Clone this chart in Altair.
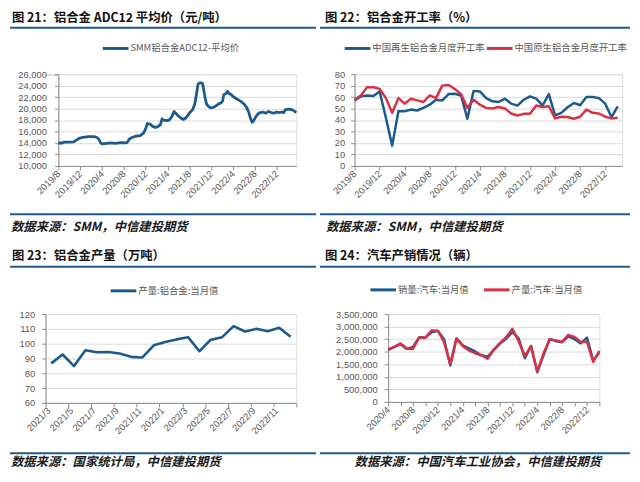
import json
import altair as alt
import pandas as pd

FONT = "Noto Sans CJK SC"
NUMFONT = "Liberation Sans"
BLUE = "#1B5A8C"
RED = "#DA3045"
RULE_BLUE = "#1F5A8E"
GRID = "#D9D9D9"
AXIS = "#8C8C8C"
LABEL = "#595959"

# ---------------- Panel 1: ADC12 price (daily) ----------------
P1_DATES = [
    "2019-08-01", "2019-08-25", "2019-09-01", "2019-10-01", "2019-10-25", "2019-11-10",
    "2019-11-25", "2019-12-16", "2020-01-16", "2020-02-16", "2020-03-01", "2020-03-13",
    "2020-03-22", "2020-04-01", "2020-04-16", "2020-05-16", "2020-06-16", "2020-07-16",
    "2020-08-10", "2020-08-19", "2020-09-01", "2020-09-19", "2020-10-10", "2020-11-01",
    "2020-11-19", "2020-12-01", "2020-12-10", "2020-12-25", "2021-01-10", "2021-01-25",
    "2021-02-10", "2021-02-22", "2021-03-01", "2021-03-10", "2021-03-25", "2021-04-10",
    "2021-04-25", "2021-05-07", "2021-05-19", "2021-06-01", "2021-06-16", "2021-06-28",
    "2021-07-13", "2021-08-01", "2021-08-19", "2021-09-01", "2021-09-10", "2021-09-19",
    "2021-10-01", "2021-10-13", "2021-10-19", "2021-10-28", "2021-11-07", "2021-11-19",
    "2021-12-01", "2021-12-19", "2022-01-07", "2022-01-25", "2022-02-04", "2022-02-10",
    "2022-02-22", "2022-03-01", "2022-03-10", "2022-03-19", "2022-04-01", "2022-04-16",
    "2022-05-01", "2022-05-16", "2022-06-01", "2022-06-16", "2022-06-28", "2022-07-07",
    "2022-07-16", "2022-07-25", "2022-08-07", "2022-08-19", "2022-09-01", "2022-09-16",
    "2022-10-01", "2022-10-16", "2022-11-01", "2022-11-16", "2022-12-01", "2022-12-16",
    "2023-01-01", "2023-01-10", "2023-01-19", "2023-02-07", "2023-02-25", "2023-03-07",
    "2023-03-19",
]
P1_PRICE = [
    14000, 14000, 14150, 14150, 14200, 14500,
    14800, 15000, 15100, 15100, 15000, 14700,
    14100, 13850, 13900, 14000, 13950, 14050,
    14000, 14100, 14700, 15000, 15200, 15300,
    15700, 16500, 17400, 17300, 16900, 16700,
    16900, 17200, 18200, 18000, 17900, 18000,
    18600, 19500, 19100, 18700, 18300, 18100,
    18400, 19200, 19800, 20800, 22500, 24300,
    24500, 24400, 23500, 21800, 20700, 20300,
    20100, 20300, 20700, 21000, 21300, 22400,
    22600, 23000, 22600, 22500, 22100, 21800,
    21500, 21200, 20800, 20200, 19300, 18300,
    17600, 17900, 18600, 19100, 19300, 19400,
    19200, 19500, 19300, 19200, 19400, 19300,
    19400, 19300, 19800, 19900, 19800, 19600,
    19300,
]
P1_XLABELS = ["2019/8", "2019/12", "2020/4", "2020/8", "2020/12", "2021/4",
              "2021/8", "2021/12", "2022/4", "2022/8", "2022/12"]
P1_SERIES = "SMM铝合金ADC12-平均价"

# ---------------- Panel 2: operating rates (monthly 2019/8 - 2023/2) ----------------
P2_RECYCLED = [57.1, 60.6, 61.4, 60.9, 64.9, 42.0, 17.7, 47.7, 47.7, 49.1,
               48.3, 50.6, 53.4, 57.7, 57.1, 62.6, 62.9, 61.4, 41.1, 65.4,
               64.9, 59.1, 56.3, 55.7, 58.6, 54.3, 52.6, 57.7, 60.6, 58.6,
               52.6, 62.6, 44.0, 46.3, 51.1, 54.9, 52.9, 60.0, 60.0, 59.1,
               54.3, 42.6, 52.0]
P2_PRIMARY = [57.7, 61.4, 68.6, 68.6, 67.1, 59.1, 46.3, 59.1, 54.3, 58.6,
              57.1, 55.7, 61.4, 59.1, 70.0, 70.6, 67.1, 62.6, 50.6, 57.7,
              53.4, 50.6, 50.0, 51.4, 50.0, 45.7, 44.0, 45.4, 45.4, 52.6,
              51.4, 52.0, 41.4, 42.9, 42.6, 41.1, 42.9, 49.1, 46.3, 45.7,
              42.9, 41.4, 42.0]
P2_SERIES = ["中国再生铝合金月度开工率", "中国原生铝合金月度开工率"]

# ---------------- Panel 3: aluminium alloy output (万吨) ----------------
P3_MONTHS = ["2021/3", "2021/4", "2021/5", "2021/6", "2021/7", "2021/8", "2021/9",
             "2021/10", "2021/11", "2021/12", "2022/1", "2022/2", "2022/3", "2022/4",
             "2022/5", "2022/6", "2022/7", "2022/8", "2022/9", "2022/10", "2022/11",
             "2022/12"]
P3_OUTPUT = [86.7, 92.7, 84.9, 95.6, 94.2, 94.4, 93.3, 91.1, 90.7, 98.9, 101.1,
             102.9, 104.4, 94.9, 102.7, 104.4, 111.8, 108.2, 110.0, 108.4, 110.7, 104.7]
P3_SERIES = "产量:铝合金:当月值"

# ---------------- Panel 4: auto sales / production (辆) ----------------
P4_MONTHS = ["2020/4", "2020/5", "2020/6", "2020/7", "2020/8", "2020/9", "2020/10",
             "2020/11", "2020/12", "2021/1", "2021/2", "2021/3", "2021/4", "2021/5",
             "2021/6", "2021/7", "2021/8", "2021/9", "2021/10", "2021/11", "2021/12",
             "2022/1", "2022/2", "2022/3", "2022/4", "2022/5", "2022/6", "2022/7",
             "2022/8", "2022/9", "2022/10", "2022/11", "2022/12", "2023/1", "2023/2"]
P4_SALES = [2070000, 2190000, 2300000, 2110000, 2190000, 2570000, 2570000, 2770000,
            2830000, 2500000, 1450000, 2530000, 2250000, 2130000, 2010000, 1860000,
            1800000, 2070000, 2330000, 2520000, 2790000, 2530000, 1740000, 2230000,
            1180000, 1860000, 2500000, 2420000, 2380000, 2610000, 2500000, 2330000,
            2560000, 1650000, 1970000]
P4_PROD = [2100000, 2190000, 2330000, 2130000, 2110000, 2570000, 2550000, 2850000,
           2840000, 2380000, 1500000, 2530000, 2230000, 2050000, 1940000, 1860000,
           1720000, 2080000, 2340000, 2580000, 2910000, 2420000, 1820000, 2230000,
           1210000, 1930000, 2500000, 2450000, 2390000, 2670000, 2590000, 2390000,
           2390000, 1590000, 2030000]
P4_SERIES = ["销量:汽车:当月值", "产量:汽车:当月值"]


def month_index(s, y0, m0):
    y, m, d = map(int, s.split("-"))
    return (y - y0) * 12 + (m - m0) + (d - 1) / 30.0


dummy = pd.DataFrame({"k": [0]})


def yaxis(values, fmt=None, pad=6):
    kw = dict(values=values, title=None, grid=True, gridColor=GRID, gridWidth=1,
              domain=True, domainColor=AXIS, ticks=True, tickColor=AXIS, tickSize=4,
              labelFont=NUMFONT, labelFontSize=9.5, labelColor=LABEL, labelPadding=pad)
    if fmt:
        kw["format"] = fmt
    return alt.Axis(**kw)


def xaxis(values, expr, offset=0):
    return alt.Axis(values=values, labelExpr=expr, title=None, grid=False,
                    domain=True, domainColor=AXIS, ticks=True, tickColor=AXIS, tickSize=4,
                    labelAngle=315, labelAlign="right", labelBaseline="middle",
                    labelFont=NUMFONT, labelFontSize=9.5, labelColor=LABEL, labelPadding=2,
                    labelOverlap=False, labelFlush=False, labelOffset=offset)


def legend_entries(entries, y):
    """entries: list of (symbol_left_x, label, colour)."""
    base = alt.Chart(dummy)
    out = []
    for x0, lab, colr in entries:
        out.append(base.mark_rule(color=colr, strokeWidth=3).encode(
            x=alt.value(x0), x2=alt.value(x0 + 26), y=alt.value(y)))
        out.append(base.mark_text(align="left", baseline="middle", font=FONT, fontSize=9.5,
                                  color=LABEL).encode(
            x=alt.value(x0 + 28), y=alt.value(y), text=alt.value(lab)))
    return out


def deco(frame, title, tpos, rx, ry, fry, footer, fpos):
    base = alt.Chart(dummy)
    return [
        base.mark_rect(opacity=0).encode(
            x=alt.value(frame[0]), x2=alt.value(frame[1]),
            y=alt.value(frame[2]), y2=alt.value(frame[3])),
        base.mark_text(align="left", baseline="middle", font=FONT, fontSize=12.5,
                       fontWeight="bold", color="#111111").encode(
            x=alt.value(tpos[0]), y=alt.value(tpos[1]), text=alt.value(title)),
        base.mark_rule(color=RULE_BLUE, strokeWidth=2).encode(
            x=alt.value(rx[0]), x2=alt.value(rx[1]), y=alt.value(ry)),
        base.mark_rule(color=RULE_BLUE, strokeWidth=2).encode(
            x=alt.value(rx[0]), x2=alt.value(rx[1]), y=alt.value(fry)),
        base.mark_text(align="left", baseline="middle", font=FONT, fontSize=12.5,
                       fontWeight="bold", fontStyle="italic", color="#1a1a1a").encode(
            x=alt.value(fpos[0]), y=alt.value(fpos[1]), text=alt.value(footer)),
    ]


# ---------- Panel 1 ----------
df1 = pd.DataFrame({"i1": [month_index(d, 2019, 8) for d in P1_DATES],
                    "v1": P1_PRICE, "s1": P1_SERIES})
W1, H1 = 241, 93
line1 = alt.Chart(df1).mark_line(strokeWidth=2.8, strokeJoin="round").encode(
    x=alt.X("i1:Q", scale=alt.Scale(domain=[0, 43.6], nice=False, zero=False),
            axis=xaxis(list(range(0, 41, 4)), f"{json.dumps(P1_XLABELS)}[datum.value/4]")),
    y=alt.Y("v1:Q", scale=alt.Scale(domain=[10000, 26000], nice=False, zero=False),
            axis=yaxis(list(range(10000, 26001, 2000)), ",.0f", pad=8)),
    color=alt.Color("s1:N", scale=alt.Scale(domain=[P1_SERIES], range=[BLUE]), legend=None),
)
p1 = alt.layer(*deco((-49, 265, -63, 168), "图 21：铝合金 ADC12 平均价（元/吨）", (-47, -56.5),
                     (-49, 261), -47, 142, "数据来源：SMM，中信建投期货", (-48, 155)),
               *legend_entries([(45, P1_SERIES, BLUE)], -26),
               line1).properties(width=W1, height=H1)

# ---------- Panel 2 ----------
n2 = len(P2_RECYCLED)
df2 = pd.DataFrame({"i2": list(range(n2)) * 2,
                    "v2": P2_RECYCLED + P2_PRIMARY,
                    "s2": [P2_SERIES[0]] * n2 + [P2_SERIES[1]] * n2})
W2, H2 = 271, 93
col2 = alt.Color("s2:N", scale=alt.Scale(domain=P2_SERIES, range=[BLUE, RED]), legend=None)
x2 = alt.X("i2:Q", scale=alt.Scale(domain=[0, 42.7], nice=False, zero=False),
           axis=xaxis(list(range(0, 41, 4)), f"{json.dumps(P1_XLABELS)}[datum.value/4]"))
y2 = alt.Y("v2:Q", scale=alt.Scale(domain=[0, 80], nice=False),
           axis=yaxis(list(range(0, 81, 10)), pad=6))
l2a = alt.Chart(df2).transform_filter(alt.datum.s2 == P2_SERIES[0]).mark_line(
    strokeWidth=2.5, strokeJoin="round").encode(x=x2, y=y2, color=col2)
l2b = alt.Chart(df2).transform_filter(alt.datum.s2 == P2_SERIES[1]).mark_line(
    strokeWidth=2.5, strokeJoin="round").encode(x=x2, y=y2, color=col2)
p2 = alt.layer(*deco((-35, 279, -63, 168), "图 22：铝合金开工率（%）", (-30, -56.5),
                     (-35, 279), -47, 142, "数据来源：SMM，中信建投期货", (-29, 155)),
               *legend_entries([(-10, P2_SERIES[0], BLUE), (134, P2_SERIES[1], RED)], -26),
               l2a, l2b).properties(width=W2, height=H2)

# ---------- Panel 3 ----------
df3 = pd.DataFrame({"i3": [i + 0.5 for i in range(len(P3_MONTHS))],
                    "v3": P3_OUTPUT, "s3": P3_SERIES})
W3, H3 = 254, 90
line3 = alt.Chart(df3).mark_line(strokeWidth=2.6, strokeJoin="round").encode(
    x=alt.X("i3:Q", scale=alt.Scale(domain=[0, len(P3_MONTHS)], nice=False, zero=False),
            axis=xaxis(list(range(0, len(P3_MONTHS) + 1, 2)),
                       f"{json.dumps(P3_MONTHS)}[datum.value] || ''", offset=3)),
    y=alt.Y("v3:Q", scale=alt.Scale(domain=[60, 120], nice=False, zero=False),
            axis=yaxis(list(range(60, 121, 10)), pad=7)),
    color=alt.Color("s3:N", scale=alt.Scale(domain=[P3_SERIES], range=[BLUE]), legend=None),
)
p3 = alt.layer(*deco((-36, 278, -75, 156), "图 23：铝合金产量（万吨）", (-34, -59),
                     (-36, 274), -48, 141, "数据来源：国家统计局，中信建投期货", (-35, 149.5)),
               *legend_entries([(66, P3_SERIES, BLUE)], -23.5),
               line3).properties(width=W3, height=H3)

# ---------- Panel 4 ----------
n4 = len(P4_MONTHS)
df4 = pd.DataFrame({"i4": list(range(n4)) * 2,
                    "v4": P4_SALES + P4_PROD,
                    "s4": [P4_SERIES[0]] * n4 + [P4_SERIES[1]] * n4})
W4, H4 = 214, 89
col4 = alt.Color("s4:N", scale=alt.Scale(domain=P4_SERIES, range=[BLUE, RED]), legend=None)
x4 = alt.X("i4:Q", scale=alt.Scale(domain=[0, n4 - 1], nice=False, zero=False),
           axis=xaxis(list(range(0, n4, 2)),
                      f"datum.value % 4 == 0 ? {json.dumps(P4_MONTHS)}[datum.value] : ''"))
y4 = alt.Y("v4:Q", scale=alt.Scale(domain=[0, 3500000], nice=False),
           axis=yaxis(list(range(0, 3500001, 500000)), ",.0f", pad=7))
l4a = alt.Chart(df4).transform_filter(alt.datum.s4 == P4_SERIES[0]).mark_line(
    strokeWidth=2.5, strokeJoin="round").encode(x=x4, y=y4, color=col4)
l4b = alt.Chart(df4).transform_filter(alt.datum.s4 == P4_SERIES[1]).mark_line(
    strokeWidth=2.5, strokeJoin="round").encode(x=x4, y=y4, color=col4)
p4 = alt.layer(*deco((-69, 245, -75, 156), "图 24：汽车产销情况（辆）", (-64, -59),
                     (-69, 245), -48, 141, "数据来源：中国汽车工业协会，中信建投期货", (-34, 149.5)),
               *legend_entries([(-18, P4_SERIES[0], BLUE), (97, P4_SERIES[1], RED)], -24.5),
               l4a, l4b).properties(width=W4, height=H4)

# invisible spacer shifting the top row's plots 13px right of the bottom row's
spacer = alt.Chart(dummy).mark_point(size=0, opacity=0).encode(
    x=alt.value(0), y=alt.value(0)).properties(width=13, height=1)


def indep(c):
    return c.resolve_scale(x="independent", y="independent", color="independent")


row1 = indep(alt.hconcat(spacer, indep(alt.hconcat(p1, p2, spacing=59, bounds="flush")),
                         spacing=0, bounds="flush"))
row2 = indep(alt.hconcat(p3, p4, spacing=93, bounds="flush"))

# with flush bounds a nested concat row has no height of its own, so the
# spacing is the full distance between the two rows' plot tops
chart = indep(alt.vconcat(row1, row2, spacing=243, bounds="flush")) \
    .properties(padding=0).configure_view(strokeWidth=0).configure(background="white")

chart.save("out.html", embed_options={"renderer": "svg", "actions": False})
